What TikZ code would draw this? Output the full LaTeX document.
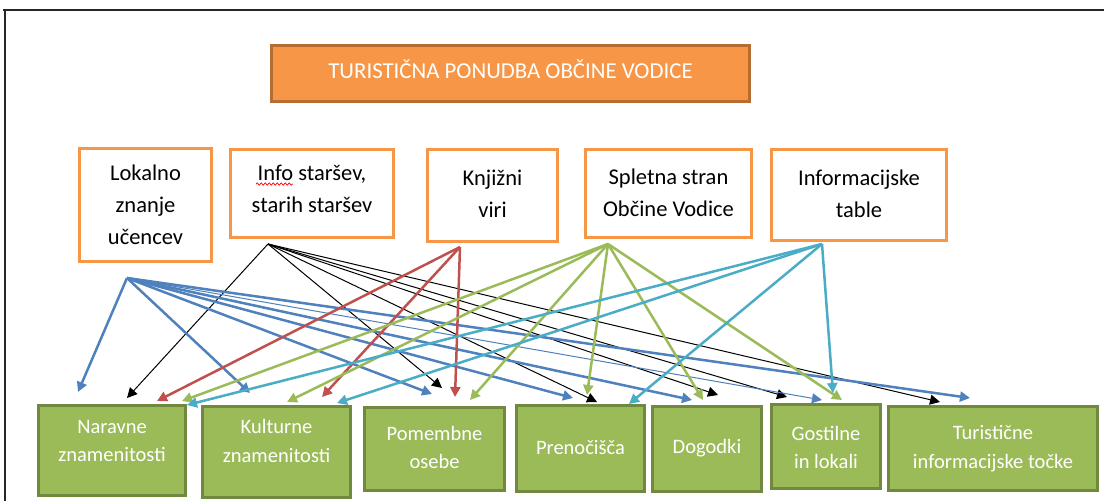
\documentclass[tikz,border=0pt]{standalone}
\usepackage{fontspec}
\setmainfont{Carlito}
\usetikzlibrary{arrows.meta,decorations.pathmorphing}
\definecolor{orn}{HTML}{F79646}
\definecolor{ornd}{HTML}{B66D31}
\definecolor{grn}{HTML}{9BBB59}
\definecolor{grnd}{HTML}{71893F}
\definecolor{blu}{HTML}{4F81BD}
\definecolor{redd}{HTML}{C0504D}
\definecolor{cya}{HTML}{4BACC6}
\begin{document}
\begin{tikzpicture}[x=1pt,y=-1pt,
  topbox/.style={draw=orn, line width=3pt, fill=white, inner sep=0pt},
  titlebox/.style={draw=ornd, line width=3pt, fill=orn, inner sep=0pt},
  gbox/.style={draw=grnd, line width=3pt, fill=grn, inner sep=0pt},
  gtxt/.style={text=white, font=\fontsize{20.5}{28.5}\selectfont, align=center, inner sep=0pt},
  ttxt/.style={text=black, font=\fontsize{22.5}{32}\selectfont, align=center, inner sep=0pt},
  ar/.style={-{Triangle[length=10pt,width=10pt]}, line width=2.5pt},
  thinar/.style={-{Triangle[length=10pt,width=10pt]}, line width=1pt},
  bar/.style={-{Triangle[length=10pt,width=10pt]}, line width=1pt, black}]
\path[use as bounding box] (0,0) rectangle (1104,501);
\fill[white] (0,0) rectangle (1104,501);
% frame
\draw[line width=2pt, black!85] (3,9.5) -- (1104,9.5);
\draw[line width=2pt, black!85] (5,9.5) -- (5,501);
% title
\node[titlebox, minimum width=478, minimum height=56] (title) at (510.5,73.5) {};
\node[text=white, font=\fontsize{22.8}{27}\selectfont, inner sep=0pt] (titlet) at (510.5,69) {TURISTIČNA PONUDBA OBČINE VODICE};
% top boxes
\node[topbox, minimum width=132, minimum height=113] (lok) at (145.5,205) {};
\node[topbox, minimum width=163, minimum height=88] (inf) at (312,193.5) {};
\node[topbox, minimum width=130, minimum height=92] (knj) at (492.5,195.5) {};
\node[topbox, minimum width=166, minimum height=88] (spl) at (668.5,193.5) {};
\node[topbox, minimum width=175, minimum height=91] (itab) at (859,195) {};
\node[ttxt] (lokt) at (145.5,205) {Lokalno\\znanje\\učencev};
\node[ttxt] (inft) at (312,189) {Info staršev,\\starih staršev};
\node[ttxt] (knjt) at (492.5,194) {Knjižni\\viri};
\node[ttxt] (splt) at (668.5,192.5) {Spletna stran\\Občine Vodice};
\node[ttxt] (itabt) at (859,194) {Informacijske\\table};
\draw[red, line width=0.7pt, decorate, decoration={snake, amplitude=1.2pt, segment length=4pt}] (256,184) -- (293,184);
% bottom boxes
\node[gbox, minimum width=147, minimum height=90] (nar) at (112,450.5) {};
\node[gbox, minimum width=148, minimum height=91] (kul) at (276.5,452) {};
\node[gbox, minimum width=140, minimum height=83] (pom) at (434.5,449) {};
\node[gbox, minimum width=128, minimum height=86] (pre) at (580.5,448.5) {};
\node[gbox, minimum width=109, minimum height=85] (dog) at (707,449) {};
\node[gbox, minimum width=109, minimum height=84] (gos) at (826,446.5) {};
\node[gbox, minimum width=209, minimum height=84] (tur) at (993,448.5) {};
\node[gtxt] (nart) at (112,441) {Naravne\\znamenitosti};
\node[gtxt] (kult) at (276.5,441) {Kulturne\\znamenitosti};
\node[gtxt] (pomt) at (434.5,447.5) {Pomembne\\osebe};
\node[gtxt] (pret) at (580.5,448) {Prenočišča};
\node[gtxt] (dogt) at (707,448) {Dogodki};
\node[gtxt] (gost) at (826,447.5) {Gostilne\\in lokali};
\node[gtxt] (turt) at (993,448.5) {Turistične\\informacijske točke};
% origins
\coordinate (lo) at ([shift={(-18.5,15)}]lok.south);
\coordinate (io) at ([shift={(-44,5)}]inf.south);
\coordinate (ko) at ([shift={(-32.5,4)}]knj.south);
\coordinate (so) at ([shift={(-60.5,5)}]spl.south);
\coordinate (no) at ([shift={(-37,2)}]itab.south);
% black
\draw[bar] (io) -- ([shift={(15,-6)}]nar.north);
\draw[bar] (io) -- ([shift={(7.5,-18)}]pom.north);
\draw[bar] (io) -- ([shift={(16.5,-2)}]pre.north);
\draw[bar] (io) -- ([shift={(11,-10)}]dog.north);
\draw[bar] (io) -- ([shift={(-39,-6)}]gos.north);
\draw[bar] (io) -- ([shift={(-53,-3)}]tur.north);
% blue
\draw[ar, blu] (lo) -- ([shift={(-34,-12)}]nar.north);
\draw[ar, blu] (lo) -- ([shift={(-26.5,-12)}]kul.north);
\draw[ar, blu] (lo) -- ([shift={(-2.5,-12)}]pom.north);
\draw[ar, blu] (lo) -- ([shift={(-7.5,-6)}]pre.north);
\draw[ar, blu] (lo) -- ([shift={(-15,-5)}]dog.north);
\draw[thinar, blu] (lo) -- ([shift={(-4,-3)}]gos.north);
\draw[ar, blu] (lo) -- ([shift={(-23,-7)}]tur.north);
% red
\draw[ar, redd] (ko) -- ([shift={(45,-3)}]nar.north);
\draw[ar, redd] (ko) -- ([shift={(45.5,-8)}]kul.north);
\draw[ar, redd] (ko) -- ([shift={(20.5,-9)}]pom.north);
% green
\draw[ar, grn] (so) -- ([shift={(70,-3)}]nar.north);
\draw[ar, grn] (so) -- ([shift={(10.5,-3)}]kul.north);
\draw[ar, grn] (so) -- ([shift={(35.5,-6)}]pom.north);
\draw[ar, grn] (so) -- ([shift={(6.5,-9)}]pre.north);
\draw[ar, grn] (so) -- ([shift={(-4,-5)}]dog.north);
\draw[ar, grn] (so) -- ([shift={(16,-3)}]gos.north);
% cyan
\draw[ar, cya] (no) -- ([shift={(75,1)}]nar.north);
\draw[ar, cya] (no) -- ([shift={(60.5,-2)}]kul.north);
\draw[ar, cya] (no) -- ([shift={(48.5,0)}]pre.north);
\draw[ar, cya] (no) -- ([shift={(7,-10)}]gos.north);
\end{tikzpicture}
\end{document}
